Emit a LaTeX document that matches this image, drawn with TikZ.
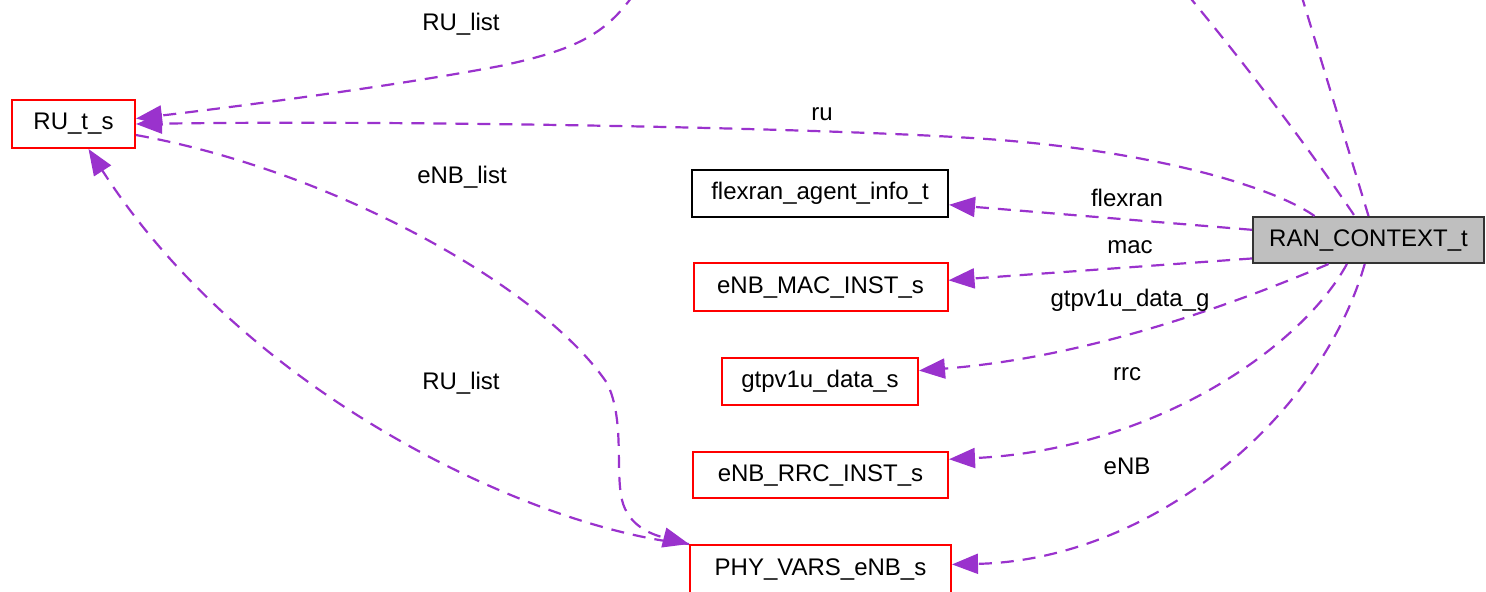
\documentclass[tikz,border=0pt]{standalone}
\usepackage{fontspec}
\setmainfont{Liberation Sans}
\usetikzlibrary{arrows.meta}
\definecolor{edgec}{HTML}{9A32CD}
\definecolor{ranfill}{HTML}{BFBFBF}
\begin{document}
\begin{tikzpicture}[x=0.5pt,y=-0.5pt,
  box/.style={draw=red, line width=1pt, inner sep=0pt, font=\fontsize{12}{14}\selectfont},
  blackbox/.style={box, draw=black},
  rootbox/.style={box, draw=black!80, fill=ranfill},
  relplain/.style={draw=edgec, line width=1.1pt, dash pattern=on 6.5pt off 4.5pt},
  rel/.style={relplain, -{Triangle[length=13pt,width=10pt]}},
  lbl/.style={font=\fontsize{12}{14}\selectfont, inner sep=0pt}]
\useasboundingbox (0,0) rectangle (1486,591);

% nodes
\node[box, minimum width=61.5pt, minimum height=24pt] (RU) at (73.5,124) {RU\_t\_s};
\node[blackbox, minimum width=128pt, minimum height=23.5pt] (flex) at (820,193.5) {flexran\_agent\_info\_t};
\node[box, minimum width=127pt, minimum height=24pt] (mac) at (820.5,287) {eNB\_MAC\_INST\_s};
\node[box, minimum width=98pt, minimum height=23.5pt] (gtp) at (820,381) {gtpv1u\_data\_s};
\node[box, minimum width=127.5pt, minimum height=23pt] (rrc) at (820.5,475) {eNB\_RRC\_INST\_s};
\node[box, minimum width=130.5pt, minimum height=24pt] (phy) at (820.5,569) {PHY\_VARS\_eNB\_s};
\node[rootbox, minimum width=115.5pt, minimum height=23pt] (ran) at (1368.5,240) {RAN\_CONTEXT\_t};

% free ends above the picture
\coordinate (top1) at (634,-6);
\coordinate (top2) at (1187,-6);
\coordinate (top3) at (1301,-6);

% edges
\draw[rel] (top1) .. controls (605,35) and (575,50) .. (500,66)
  .. controls (400,85) and (250,105) .. (RU.5);
\draw[rel] (ran.156) .. controls (1270,185) and (1150,152) .. (1000,140)
  .. controls (850,128) and (400,120) .. (RU.east);
\draw[rel] (RU.-10) .. controls (330,170) and (540,285) .. (607,383)
  .. controls (625,420) and (615,470) .. (622,500)
  .. controls (628,525) and (650,534) .. (phy.north west);
\draw[rel] (phy.north west) .. controls (540,530) and (250,400) .. (RU.-59);
\draw[relplain] (top2) .. controls (1250,70) and (1310,150) .. (ran.120);
\draw[relplain] (top3) -- (ran.90);
\draw[rel] (ran.175) -- (flex.-5);
\draw[rel] (ran.189) -- (mac.3);
\draw[rel] (ran.211) .. controls (1220,310) and (1080,358) .. (gtp.6);
\draw[rel] (ran.228) .. controls (1300,350) and (1150,450) .. (rrc.7);
\draw[rel] (ran.261) .. controls (1320,420) and (1150,560) .. (phy.2);

% labels
\node[lbl] (l1) at (461,24) {RU\_list};
\node[lbl] (l2) at (822,114) {ru};
\node[lbl] (l3) at (462,177) {eNB\_list};
\node[lbl] (l4) at (1127,198) {flexran};
\node[lbl] (l5) at (1130,247) {mac};
\node[lbl] (l6) at (1130,300) {gtpv1u\_data\_g};
\node[lbl] (l7) at (1127,374) {rrc};
\node[lbl] (l8) at (461,383) {RU\_list};
\node[lbl] (l9) at (1127,466) {eNB};
\end{tikzpicture}
\end{document}
